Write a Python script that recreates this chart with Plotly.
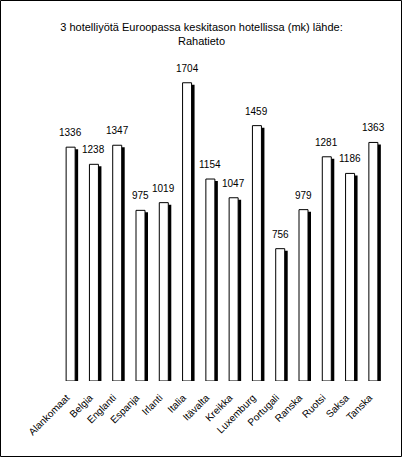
import plotly.graph_objects as go

# 3 hotelliyötä Euroopassa, hinnat markkoina
maat = ['Alankomaat', 'Belgia', 'Englanti', 'Espanja', 'Irlanti', 'Italia', 'Itävalta',
        'Kreikka', 'Luxemburg', 'Portugali', 'Ranska', 'Ruotsi', 'Saksa', 'Tanska']
hinnat = [1336, 1238, 1347, 975, 1019, 1704, 1154, 1047, 1459, 756, 979, 1281, 1186, 1363]

otsikko = '3 hotelliyötä Euroopassa keskitason hotellissa (mk) lähde:<br>Rahatieto'

W, H = 403, 458
L, R, T, B = 59, 18, 60, 77
pw = W - L - R
ph = H - T - B
ymax = 1834
px_per_unit = ph / ymax
px_per_cat = pw / len(maat)

leveys = 9 / px_per_cat          # bar width in category units
dx = 3 / px_per_cat              # shadow shift right
dy = 2 / px_per_unit             # shadow shift down

fig = go.Figure()

# varjo
fig.add_trace(go.Bar(
    x=list(range(len(maat))), y=[h - dy for h in hinnat],
    width=leveys, offset=-leveys / 2 + dx,
    marker=dict(color='black', line=dict(width=0)),
    hoverinfo='skip', showlegend=False))

# palkit
fig.add_trace(go.Bar(
    x=list(range(len(maat))), y=hinnat,
    width=leveys,
    marker=dict(color='white', line=dict(color='black', width=1)),
    showlegend=False))

for i, h in enumerate(hinnat):
    fig.add_annotation(x=i, y=h, text=str(h), showarrow=False,
                       yanchor='bottom', yshift=7,
                       font=dict(size=10, color='black'))

# kehys
fig.add_shape(type='rect', xref='paper', yref='paper',
              x0=(0.5 - L) / pw, x1=(401.5 - L) / pw,
              y0=(H - B - 456.5) / ph, y1=(H - B - 0.5) / ph,
              line=dict(color='black', width=1))

fig.update_layout(
    width=W, height=H,
    margin=dict(l=L, r=R, t=T, b=B),
    paper_bgcolor='white', plot_bgcolor='white',
    barmode='overlay',
    font=dict(family='Liberation Sans, Arial, sans-serif', color='black'),
    title=dict(text=otsikko, x=0.5, xanchor='center', y=1 - 31 / H, yanchor='middle',
               font=dict(size=11, color='black')),
)
fig.update_xaxes(range=[-0.5, len(maat) - 0.5], tickmode='array',
                 tickvals=list(range(len(maat))), ticktext=maat,
                 tickangle=-45, tickfont=dict(size=10),
                 ticklabelstandoff=8, ticklabelshift=-4,
                 showgrid=False, zeroline=False, showline=False, ticks='')
fig.update_yaxes(range=[0, ymax], visible=False, showgrid=False, zeroline=False)

fig.write_html('out.html', config={'displayModeBar': False},
               post_script="document.body.style.margin='0';")
